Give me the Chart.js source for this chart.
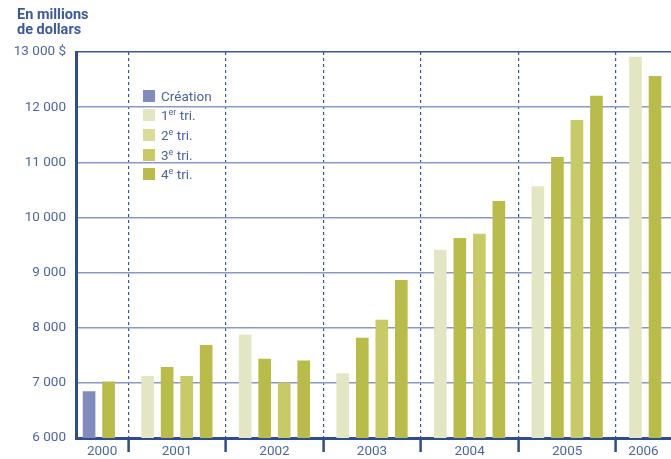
<!DOCTYPE html>
<html lang="fr">
<head>
  <meta charset="UTF-8" />
  <title>En millions de dollars</title>
  <script src="https://cdn.jsdelivr.net/npm/chart.js"></script>
  <style>
    * { margin: 0; padding: 0; box-sizing: border-box; }
    body { width: 671px; height: 459px; overflow: hidden; background: #fff; font-family: 'Roboto', sans-serif; }
    .wrap { position: relative; width: 671px; height: 459px; }
    .axis-title {
      position: absolute; left: 17px; top: 8px;
      font-weight: bold; font-size: 14.5px; line-height: 14.5px; color: #3d5a98;
    }
    .legend { position: absolute; left: 143px; top: 86px; }
    .legend div { display: flex; align-items: center; height: 19.6px; font-size: 13.5px; color: #4a63a1; }
    .legend span.sw { width: 12px; height: 12px; margin-right: 6px; }
    .legend sup { font-size: 9px; line-height: 0; vertical-align: 5px; }
  </style>
</head>
<body>
  <div class="wrap">
    <canvas id="chart" width="671" height="459"></canvas>
    <div class="axis-title">En millions<br>de dollars</div>
    <div class="legend" id="legend"></div>
  </div>

  <script>
    // data
    const years = ['2000', '2001', '2002', '2003', '2004', '2005', '2006'];
    const seriesLabels = ['Création', '1er tri.', '2e tri.', '3e tri.', '4e tri.'];
    const creation = [6840, null, null, null, null, null, null];
    const q1 = [null, 7120, 7870, 7170, 9410, 10560, 12910];
    const q2 = [null, 7280, 7430, 7810, 9620, 11090, 12560];
    const q3 = [null, 7120, 7000, 8140, 9700, 11760, null];
    const q4 = [7020, 7680, 7400, 8860, 10290, 12200, null];
    const yTicks = [6000, 7000, 8000, 9000, 10000, 11000, 12000, 13000];

    // slot of each series inside a year (5 slots per year, slot 0 = year boundary)
    const slotOf = [3, 1, 2, 3, 4];
    const barColors = ['#7f8cbd', '#e4e6c3', '#b9bc48', '#c8ca66', '#b9bc48'];
    const legendColors = ['#7f8cbd', '#e4e6c3', '#dadb95', '#c8ca66', '#b9bc48'];
    const xMin = 2.33, xMax = 32.82;

    const allSeries = [creation, q1, q2, q3, q4];
    const datasets = allSeries.map((vals, s) => ({
      label: seriesLabels[s],
      data: vals.map((v, i) => v === null ? null : { x: i * 5 + slotOf[s], y: v }).filter(p => p),
      backgroundColor: barColors[s],
      barThickness: 12,
      grouped: false
    }));

    // x ticks: year boundaries (dashed lines) and visible year centres (labels)
    const boundaries = years.slice(1).map((y, i) => (i + 1) * 5);
    const yearAt = new Map();
    years.forEach((y, i) => {
      const a = Math.max(i * 5, xMin), b = Math.min(i * 5 + 5, xMax);
      yearAt.set((a + b) / 2, y);
    });
    const xTickValues = [...boundaries, ...yearAt.keys()].sort((a, b) => a - b);
    const isBoundary = v => boundaries.includes(v);

    const fmt = v => String(v).replace(/\B(?=(\d{3})+(?!\d))/g, '\u00a0');

    new Chart(document.getElementById('chart'), {
      type: 'bar',
      data: { datasets },
      options: {
        responsive: false,
        animation: false,
        layout: { padding: { left: 8, top: 52, right: 0, bottom: 0 } },
        plugins: { legend: { display: false }, tooltip: { enabled: false } },
        scales: {
          x: {
            type: 'linear',
            min: xMin,
            max: xMax,
            offset: false,
            afterBuildTicks: s => { s.ticks = xTickValues.map(v => ({ value: v })); },
            afterFit: s => { s.height = 21; },
            border: { display: true, color: '#2f4c8c', width: 3, dash: [3, 3] },
            grid: {
              offset: false,
              color: c => isBoundary(c.tick && c.tick.value) ? '#3a5796' : 'transparent',
              lineWidth: c => isBoundary(c.tick && c.tick.value) ? 1.2 : 0,
              tickColor: c => isBoundary(c.tick && c.tick.value) ? '#2f4c8c' : 'transparent',
              tickWidth: c => isBoundary(c.tick && c.tick.value) ? 2.5 : 0,
              tickLength: 14
            },
            ticks: {
              autoSkip: false,
              maxRotation: 0,
              padding: -8,
              color: '#4d66a3',
              font: { family: 'Roboto', size: 13.5 },
              callback: v => yearAt.get(v) || ''
            }
          },
          y: {
            min: 6000,
            max: 13000,
            afterBuildTicks: s => { s.ticks = yTicks.map(v => ({ value: v })); },
            afterFit: s => { s.width = 68; },
            border: { display: true, color: '#2f4c8c', width: 3 },
            grid: {
              drawTicks: false,
              color: c => c.tick && c.tick.value === 13000 ? '#3b5797' : '#8799c6',
              lineWidth: 1.5
            },
            ticks: {
              padding: 10,
              color: '#4d66a3',
              font: { family: 'Roboto', size: 13.5 },
              callback: v => v === 13000 ? fmt(v) + '\u00a0$' : fmt(v)
            }
          }
        }
      }
    });

    // legend with superscripts (1er, 2e ...)
    const legend = document.getElementById('legend');
    seriesLabels.forEach((lab, s) => {
      const row = document.createElement('div');
      const html = lab.replace(/^(\d)(er|e) /, '$1<sup>$2</sup> ');
      row.innerHTML = '<span class="sw" style="background:' + legendColors[s] + '"></span><span>' + html + '</span>';
      legend.appendChild(row);
    });
  </script>
</body>
</html>
